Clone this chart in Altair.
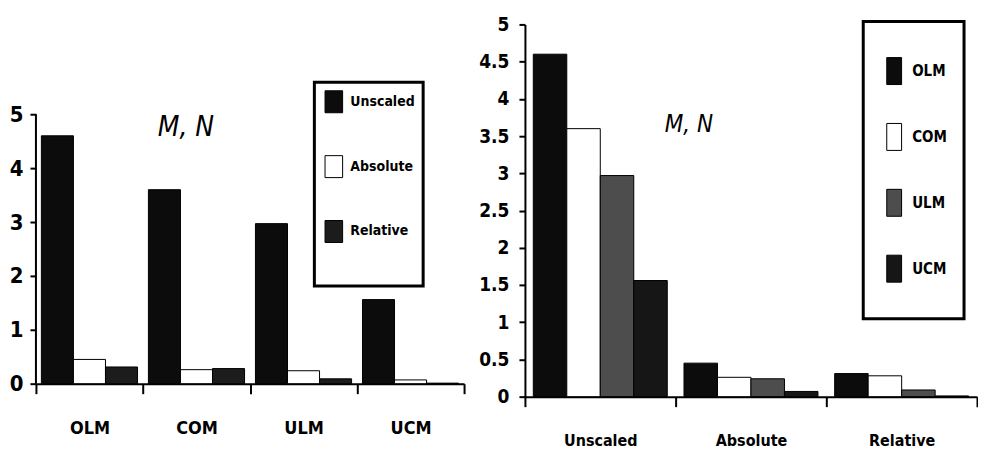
import altair as alt
import pandas as pd

models = ["OLM", "COM", "ULM", "UCM"]
scalings = ["Unscaled", "Absolute", "Relative"]
unscaled = [4.6, 3.6, 2.97, 1.56]
absolute = [0.45, 0.26, 0.24, 0.07]
relative = [0.31, 0.28, 0.09, 0.01]
left_colors = ["#0c0c0c", "#ffffff", "#1c1c1c"]
right_colors = ["#0c0c0c", "#ffffff", "#4d4d4d", "#161616"]
title_text = "M, N"
left_ticks = [0, 1, 2, 3, 4, 5]
right_ticks = [0, 0.5, 1, 1.5, 2, 2.5, 3, 3.5, 4, 4.5, 5]

rows = []
for i, m in enumerate(models):
    for s, vals in zip(scalings, [unscaled, absolute, relative]):
        rows.append({"model": m, "scaling": s, "value": vals[i]})
df = pd.DataFrame(rows)

FONT = "DejaVu Sans Condensed"

label_style = dict(labelFont=FONT, labelFontWeight="bold", labelColor="black", grid=False,
                   tickColor="black", tickWidth=2)
domain_style = dict(domainColor="black", domainWidth=2)

# ---------------- left chart ----------------
left_y = alt.Scale(domain=[0, 6.667], nice=False)
left_bars = alt.Chart(df).mark_bar(stroke="black", strokeWidth=1).encode(
    x=alt.X("model:N", sort=models, title=None,
            scale=alt.Scale(paddingInner=0, paddingOuter=0),
            axis=alt.Axis(labelAngle=0, tickBand="extent", tickSize=10, labelPadding=26,
                          labelFontSize=18, **label_style, **domain_style)),
    xOffset=alt.XOffset("scaling:N", sort=scalings,
                        scale=alt.Scale(paddingInner=0, paddingOuter=0.17)),
    y=alt.Y("value:Q", title=None, scale=left_y,
            axis=alt.Axis(values=left_ticks, format="d", tickSize=6, labelPadding=7,
                          labelFontSize=22, domain=False, **label_style)),
    color=alt.Color("scaling:N", sort=scalings,
                    scale=alt.Scale(domain=scalings, range=left_colors),
                    legend=alt.Legend(orient="none", legendX=279, legendY=58,
                                      title=" ", titleOrient="bottom", titleFontSize=12,
                                      titlePadding=22, padding=8, rowPadding=38,
                                      symbolType="M-0.8,-1L0.8,-1L0.8,1L-0.8,1Z", symbolSize=484,
                                      symbolStrokeColor="black", symbolStrokeWidth=1,
                                      labelFontSize=14, labelFont=FONT, labelFontWeight="bold",
                                      labelColor="black", labelOffset=5, strokeColor="black")),
)

left_axis_line = alt.Chart(pd.DataFrame({"lo": [left_ticks[0]], "hi": [left_ticks[-1]]})).mark_rule(
    color="black", strokeWidth=2
).encode(x=alt.value(0), y=alt.Y("lo:Q", scale=left_y), y2="hi:Q")

left_title = alt.Chart(pd.DataFrame({"t": [title_text]})).mark_text(
    font=FONT, fontSize=28, fontStyle="italic", align="left", baseline="alphabetic", color="black"
).encode(text="t:N", x=alt.value(122), y=alt.value(112))

left = alt.layer(left_bars, left_axis_line, left_title).properties(width=429, height=360)

# ---------------- right chart ----------------
right_bars = alt.Chart(df).mark_bar(stroke="black", strokeWidth=1).encode(
    x=alt.X("scaling:N", sort=scalings, title=None,
            scale=alt.Scale(paddingInner=0, paddingOuter=0),
            axis=alt.Axis(labelAngle=0, tickBand="extent", tickSize=10, labelPadding=26,
                          labelFontSize=16, **label_style, **domain_style)),
    xOffset=alt.XOffset("model:N", sort=models,
                        scale=alt.Scale(paddingInner=0, paddingOuter=0.25)),
    y=alt.Y("value:Q", title=None, scale=alt.Scale(domain=[0, 5]),
            axis=alt.Axis(values=right_ticks, format="~g",
                          tickSize=6, labelPadding=10, labelFontSize=19, **label_style, **domain_style)),
    color=alt.Color("model:N", sort=models,
                    scale=alt.Scale(domain=models, range=right_colors),
                    legend=alt.Legend(orient="none", legendX=339, legendY=-3,
                                      title=None, clipHeight=65.5, padding=17, rowPadding=0,
                                      symbolType="M-0.55,-1L0.55,-1L0.55,1L-0.55,1Z", symbolSize=729,
                                      symbolStrokeColor="black", symbolStrokeWidth=1,
                                      labelFontSize=15, labelFont=FONT, labelFontWeight="bold",
                                      labelColor="black", labelOffset=4, strokeColor="black")),
)

right_title = alt.Chart(pd.DataFrame({"t": [title_text]})).mark_text(
    font=FONT, fontSize=24, fontStyle="italic", align="left", baseline="alphabetic", color="black"
).encode(text="t:N", x=alt.value(140), y=alt.value(108))

right = alt.layer(right_bars, right_title).properties(width=453, height=373)

chart = alt.hconcat(left, right, spacing=13).resolve_scale(
    x="independent", y="independent", xOffset="independent", color="independent"
).resolve_legend(color="independent").configure_view(stroke=None).configure_legend(
    strokeWidth=3
).properties(padding={"left": 1, "top": 7, "right": 0, "bottom": 0})

chart.save("out.html", embed_options={"renderer": "svg", "actions": False})
